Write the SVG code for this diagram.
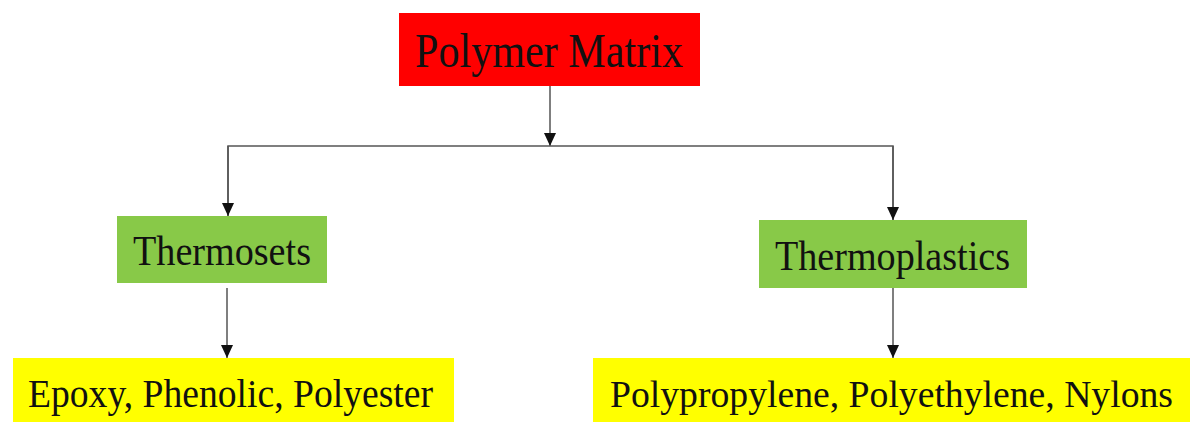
<svg xmlns="http://www.w3.org/2000/svg" width="1194" height="422" viewBox="0 0 1194 422">
<style>
.lbl{font-family:"Liberation Serif","Times New Roman",serif;fill:#111;text-anchor:middle}
.conn{stroke:#555;stroke-width:1.5;fill:none}
</style>
<defs>
<marker id="arr" viewBox="0 0 13 12" refX="13" refY="6" markerWidth="13" markerHeight="12" markerUnits="userSpaceOnUse" orient="auto">
<path d="M0,0 L13,6 L0,12 z" fill="#111"/>
</marker>
</defs>
<rect width="1194" height="422" fill="#fff"/>
<g id="connectors">
<line class="conn" x1="550" y1="86" x2="550" y2="146" marker-end="url(#arr)"/>
<polyline class="conn" points="228,216 228,146 893,146 893,220"/>
<line class="conn" x1="228" y1="146" x2="228" y2="216" marker-end="url(#arr)"/>
<line class="conn" x1="893" y1="146" x2="893" y2="220" marker-end="url(#arr)"/>
<line class="conn" x1="227" y1="288" x2="227" y2="358" marker-end="url(#arr)"/>
<line class="conn" x1="893" y1="288" x2="893" y2="358" marker-end="url(#arr)"/>
</g>
<g id="polymer-matrix">
<rect x="399" y="13" width="301" height="73" fill="#ff0000"/>
<text class="lbl" x="549" y="67" font-size="48" textLength="268" lengthAdjust="spacingAndGlyphs">Polymer Matrix</text>
</g>
<g id="thermosets">
<rect x="117" y="216" width="210" height="67" fill="#88c948"/>
<text class="lbl" x="222" y="265" font-size="43" textLength="178" lengthAdjust="spacingAndGlyphs">Thermosets</text>
</g>
<g id="thermoplastics">
<rect x="759" y="220" width="268" height="68" fill="#88c948"/>
<text class="lbl" x="892.5" y="270" font-size="43" textLength="235" lengthAdjust="spacingAndGlyphs">Thermoplastics</text>
</g>
<g id="thermosets-examples">
<rect x="13" y="358" width="441" height="64" fill="#ffff00"/>
<text class="lbl" x="230.5" y="407" font-size="41" textLength="405" lengthAdjust="spacingAndGlyphs">Epoxy, Phenolic, Polyester</text>
</g>
<g id="thermoplastics-examples">
<rect x="593" y="358" width="597" height="64" fill="#ffff00"/>
<text class="lbl" x="891.5" y="407" font-size="38.5" textLength="563" lengthAdjust="spacingAndGlyphs">Polypropylene, Polyethylene, Nylons</text>
</g>
</svg>
